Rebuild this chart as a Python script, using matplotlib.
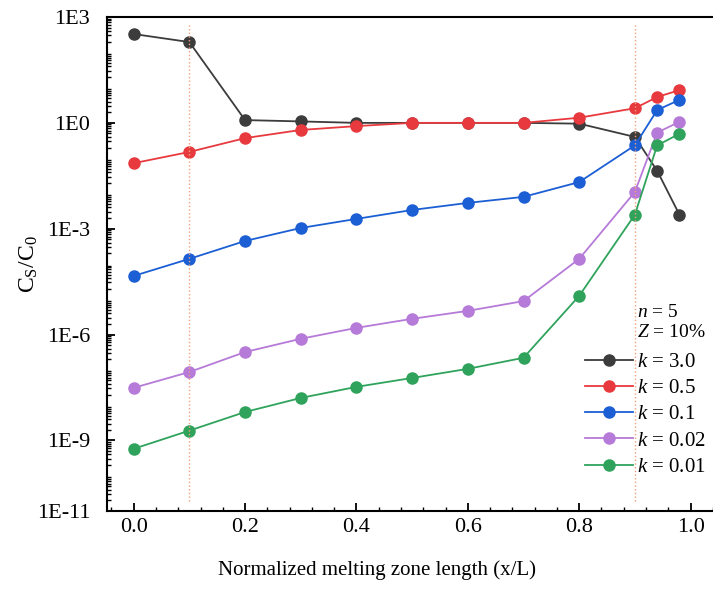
import numpy as np
import matplotlib
matplotlib.use("Agg")
import matplotlib.pyplot as plt
from matplotlib.ticker import LogLocator, MultipleLocator, NullFormatter

plt.rcParams['font.family'] = 'Liberation Serif'
plt.rcParams['mathtext.fontset'] = 'custom'
plt.rcParams['mathtext.rm'] = 'Liberation Serif'
plt.rcParams['mathtext.it'] = 'Liberation Serif:italic'

fontsize = 15

# x positions (x/L)
x = [0.0, 0.1, 0.2, 0.3, 0.4, 0.5, 0.6, 0.7, 0.8, 0.9, 0.94, 0.98]

# Cs/C0 for each k
k30 = [330, 195, 1.2, 1.1, 1.0, 1.0, 1.0, 1.0, 0.95, 0.4, 0.044, 0.0025]
k05 = [0.072, 0.15, 0.37, 0.63, 0.81, 1.0, 1.0, 1.0, 1.4, 2.6, 5.4, 8.5]
k01 = [4.6e-5, 1.4e-4, 4.5e-4, 1.05e-3, 1.9e-3, 3.4e-3, 5.4e-3, 8e-3, 0.021, 0.23, 2.3, 4.5]
k002 = [3.1e-8, 8.7e-8, 3.2e-7, 7.6e-7, 1.55e-6, 2.8e-6, 4.7e-6, 8.9e-6, 1.4e-4, 0.011, 0.53, 1.07]
k001 = [5.8e-10, 1.9e-9, 6.4e-9, 1.6e-8, 3.3e-8, 5.9e-8, 1.07e-7, 2.2e-7, 1.25e-5, 2.5e-3, 0.23, 0.49]

labels = ["3.0", "0.5", "0.1", "0.02", "0.01"]
colors = ['#3c3c3c', '#e83a3e', '#1c5fd4', '#b67ad8', '#2fa35c']

yticks = [1e3, 1e0, 1e-3, 1e-6, 1e-9, 1e-11]
yticklabels = ["1E3", "1E0", "1E-3", "1E-6", "1E-9", "1E-11"]

fig = plt.figure(figsize=(7.13, 5.89), dpi=100)
ax = fig.add_axes([0.150, 0.1324, 0.8654, 0.8387])

for ys, lab, c in zip([k30, k05, k01, k002, k001], labels, colors):
    ax.plot(x, ys, color=c, marker='o', markersize=8, linewidth=1.3,
            label=f"$k$ = {lab}")

for xv in [0.1, 0.9]:
    ax.axvline(xv, ymin=0.02, ymax=0.985, color='#f2a07a', linestyle=':', linewidth=1.0)

ax.set_yscale('log')
ax.set_ylim(1e-11, 1e3)
ax.set_xlim(-0.048, 1.06)
ax.set_yticks(yticks)
ax.set_yticklabels(yticklabels)
ax.yaxis.set_minor_locator(LogLocator(base=10, subs=np.arange(2, 10), numticks=30))
ax.yaxis.set_minor_formatter(NullFormatter())
ax.set_xticks([0.0, 0.2, 0.4, 0.6, 0.8, 1.0])
ax.set_xticklabels(["0.0", "0.2", "0.4", "0.6", "0.8", "1.0"])
ax.xaxis.set_minor_locator(MultipleLocator(0.04))

ax.tick_params(which='major', direction='in', length=6, width=1.3, labelsize=16)
ax.tick_params(axis='y', which='major', pad=12)
ax.tick_params(axis='x', which='major', pad=5)
ax.tick_params(which='minor', direction='in', length=3, width=1.0)
ax.tick_params(axis='y', which='both', right=False)
ax.tick_params(axis='x', which='both', top=False)
for s in ax.spines.values():
    s.set_linewidth(1.5)

ax.set_xlabel("Normalized melting zone length (x/L)", fontsize=fontsize)
ax.xaxis.set_label_coords(0.4376, -0.10)
ax.set_ylabel(r"C$_\mathrm{S}$/C$_0$", fontsize=17)
ax.yaxis.set_label_coords(-0.108, 0.5)

fig.text(0.893, 0.470, "$n$ = 5", fontsize=14, va='center', ha='left')
fig.text(0.893, 0.436, "$Z$ = 10%", fontsize=14, va='center', ha='left')
ax.legend(loc='upper left', bbox_to_anchor=(0.820, 0.402), bbox_transform=fig.transFigure,
          frameon=False, fontsize=15, handlelength=2.3, handletextpad=0.2,
          labelspacing=0.32, borderpad=0, borderaxespad=0)

fig.savefig("out.png", dpi=100)
